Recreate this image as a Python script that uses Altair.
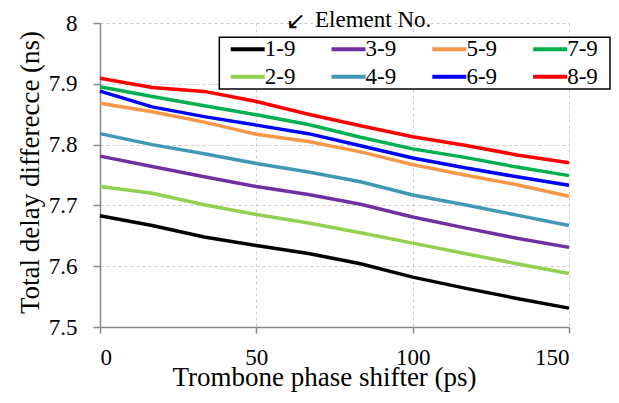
import altair as alt
import pandas as pd

x_ps = [0, 16.67, 33.33, 50, 66.67, 83.33, 100, 116.67, 133.33, 150]
series_names = ["1-9", "2-9", "3-9", "4-9", "5-9", "6-9", "7-9", "8-9"]
s1 = [7.683, 7.667, 7.648, 7.634, 7.621, 7.604, 7.582, 7.564, 7.547, 7.531]
s2 = [7.731, 7.720, 7.701, 7.685, 7.671, 7.655, 7.638, 7.621, 7.604, 7.588]
s3 = [7.781, 7.764, 7.747, 7.731, 7.718, 7.702, 7.681, 7.663, 7.646, 7.631]
s4 = [7.818, 7.800, 7.785, 7.769, 7.755, 7.739, 7.717, 7.701, 7.684, 7.667]
s5 = [7.868, 7.854, 7.837, 7.817, 7.805, 7.788, 7.767, 7.750, 7.734, 7.715]
s6 = [7.888, 7.862, 7.846, 7.832, 7.818, 7.798, 7.778, 7.762, 7.747, 7.733]
s7 = [7.895, 7.879, 7.864, 7.849, 7.833, 7.812, 7.793, 7.779, 7.763, 7.749]
s8 = [7.909, 7.894, 7.8875, 7.871, 7.850, 7.831, 7.813, 7.799, 7.783, 7.770]
colors = ["#000000", "#92D050", "#7030A0", "#4198B5", "#F79646", "#0000FF", "#00B050", "#FF0000"]
x_ticks = [0, 50, 100, 150]
y_ticks = [7.5, 7.6, 7.7, 7.8, 7.9, 8.0]

rows = []
for name, vals in zip(series_names, [s1, s2, s3, s4, s5, s6, s7, s8]):
    for xv, yv in zip(x_ps, vals):
        rows.append({"x": xv, "y": yv, "series": name})
df = pd.DataFrame(rows)

FONT = "Liberation Serif"
NUMFONT = "Liberation Serif, Liberation Sans, sans-serif"

lines = alt.Chart(df).mark_line(strokeWidth=3.5).encode(
    x=alt.X("x:Q", scale=alt.Scale(domain=[0, 150], nice=False),
            axis=alt.Axis(values=x_ticks, title="Trombone phase shifter (ps)",
                          labelFont=NUMFONT, titleFont=FONT,
                          labelFontSize=23, titleFontSize=27, labelPadding=13,
                          titleX=224, titleY=58, titleBaseline="alphabetic",
                          titleAlign="center", tickSize=6)),
    y=alt.Y("y:Q", scale=alt.Scale(domain=[7.5, 8.0], nice=False, zero=False),
            axis=alt.Axis(values=y_ticks, format=".1~f", title="Total delay differecce (ns)",
                          labelFont=NUMFONT, titleFont=FONT,
                          labelFontSize=23, titleFontSize=27, labelPadding=16,
                          titleX=-62, titleY=149, titleAngle=270,
                          titleBaseline="alphabetic", titleAlign="center", tickSize=7)),
    color=alt.Color("series:N", sort=series_names,
                    scale=alt.Scale(domain=series_names, range=colors),
                    legend=alt.Legend(orient="none", legendX=127.7, legendY=14.5, columns=4,
                                      title=None, padding=0,
                                      symbolType="M-2,0H2", symbolSize=289,
                                      symbolStrokeWidth=4, symbolOffset=8.5,
                                      labelFont=NUMFONT, labelFontSize=23,
                                      labelColor="black", labelOffset=5.6, columnPadding=27.8,
                                      rowPadding=3.8)),
)

frame = alt.Chart(pd.DataFrame({"k": [0]})).mark_rect(
    fill="white", stroke="black", strokeWidth=1.5
).encode(x=alt.value(119.3), x2=alt.value(510), y=alt.value(14.3), y2=alt.value(66))

title_text = alt.Chart(pd.DataFrame({"t": ["Element No."]})).mark_text(
    font=FONT, fontSize=23, align="left", baseline="middle", color="black"
).encode(x=alt.value(215), y=alt.value(-3), text="t:N")

arrow_text = alt.Chart(pd.DataFrame({"t": ["\u2199"]})).mark_text(
    font="DejaVu Sans", fontSize=24, align="center", baseline="middle", color="black"
).encode(x=alt.value(196), y=alt.value(-1), text="t:N")

chart = alt.layer(lines, frame, title_text, arrow_text).properties(
    width=469, height=304,
    autosize=alt.AutoSizeParams(type="none"),
    padding={"left": 92, "top": 15, "right": 42, "bottom": 72},
).configure(font=FONT).configure_axis(
    titleColor="black", labelColor="black",
    titleFontWeight="normal", domainColor="#888888", domainWidth=1.5,
    tickColor="#888888", tickWidth=1.5, gridColor="#cccccc", gridDash=[3, 3],
    gridWidth=1,
).configure_view(stroke=None)

chart.save("out.html", embed_options={"renderer": "svg", "actions": False})
